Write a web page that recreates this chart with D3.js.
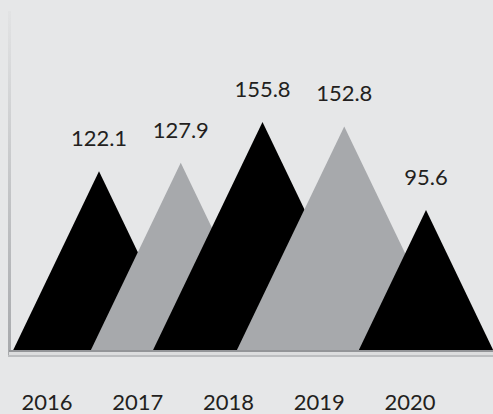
<!DOCTYPE html>
<html>
<head>
<meta charset="utf-8">
<script src="https://cdn.jsdelivr.net/npm/d3@7"></script>
<style>
  html, body { margin: 0; padding: 0; background: #e6e7e8; }
  text { font-family: "Lato", "Noto Sans", sans-serif; fill: #231f20; }
</style>
</head>
<body>
<div class="chart"></div>
<script>
var years = ["2016", "2017", "2018", "2019", "2020"];
var values = [122.1, 127.9, 155.8, 152.8, 95.6];
var colors = ["#000000", "#a7a9ac", "#000000", "#a7a9ac", "#000000"];

var svgWidth = 493;
var svgHeight = 414;
var baseY = 350;

var svg = d3.select(".chart")
    .append("svg")
    .attr("width", svgWidth)
    .attr("height", svgHeight);

svg.append("rect")
    .attr("width", svgWidth)
    .attr("height", svgHeight)
    .attr("fill", "#e6e7e8");

// value scale
var yScale = d3.scaleLinear()
    .domain([0, 231])
    .range([baseY, 12]);

// where the peaks sit
var peakScale = d3.scalePoint()
    .domain(years)
    .range([99, 426]);

// where the year labels sit
var labelScale = d3.scalePoint()
    .domain(years)
    .range([47, 410]);

var data = years.map((y, i) => ({year: y, value: values[i], color: colors[i]}));

// left axis strip
var grad = svg.append("defs").append("linearGradient")
    .attr("id", "axisGrad")
    .attr("x1", 0).attr("y1", 0).attr("x2", 0).attr("y2", 1);
grad.append("stop").attr("offset", "0%").attr("stop-color", "#e2e3e4");
grad.append("stop").attr("offset", "100%").attr("stop-color", "#a7a9ac");

svg.append("rect")
    .attr("x", 8)
    .attr("y", 11)
    .attr("width", 3)
    .attr("height", 346)
    .attr("fill", "url(#axisGrad)");

// triangles
svg.selectAll("path.peak")
    .data(data)
    .enter()
    .append("path")
    .attr("class", "peak")
    .attr("fill", d => d.color)
    .attr("d", d => {
        var px = peakScale(d.year);
        var py = yScale(d.value);
        var hw = 0.48 * (baseY - py);
        return `M${px - hw},${baseY}L${px},${py}L${px + hw},${baseY}Z`;
    });

// bottom axis
svg.append("rect")
    .attr("x", 9)
    .attr("y", baseY)
    .attr("width", svgWidth - 9)
    .attr("height", 7)
    .attr("fill", "#dcddde");
svg.append("line")
    .attr("x1", 9).attr("x2", svgWidth)
    .attr("y1", baseY + 1).attr("y2", baseY + 1)
    .attr("stroke", "#939598")
    .attr("stroke-width", 2);
svg.append("line")
    .attr("x1", 8).attr("x2", svgWidth)
    .attr("y1", baseY + 6).attr("y2", baseY + 6)
    .attr("stroke", "#bcbec0")
    .attr("stroke-width", 2);

// value labels
svg.selectAll("text.value")
    .data(data)
    .enter()
    .append("text")
    .attr("class", "value")
    .attr("x", d => peakScale(d.year))
    .attr("y", d => yScale(d.value) - 25)
    .attr("text-anchor", "middle")
    .style("font-size", "22px")
    .text(d => d.value.toFixed(1));

// year labels
svg.selectAll("text.year")
    .data(data)
    .enter()
    .append("text")
    .attr("class", "year")
    .attr("x", d => labelScale(d.year))
    .attr("y", 410)
    .attr("text-anchor", "middle")
    .style("font-size", "22px")
    .text(d => d.year);
</script>
</body>
</html>
